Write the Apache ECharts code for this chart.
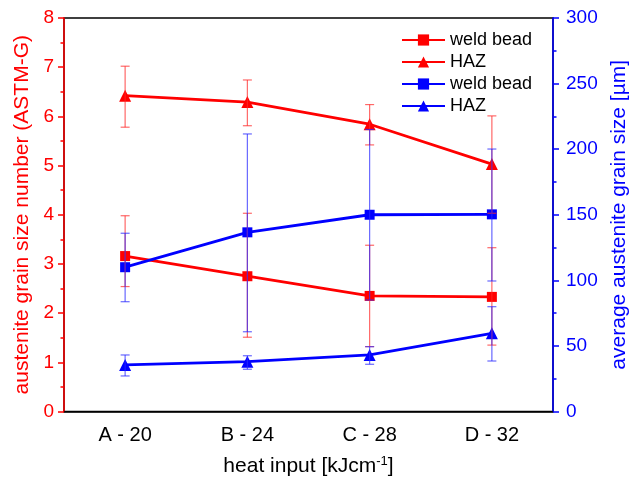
<!DOCTYPE html>
<html>
<head>
<meta charset="utf-8">
<script src="https://cdn.jsdelivr.net/npm/echarts@6/dist/echarts.min.js"></script>
<style>
  html, body { margin: 0; padding: 0; background: #fff; }
  #chart { width: 632px; height: 486px; }
</style>
</head>
<body>
<div id="chart"></div>
<script>
// Heat input categories
const categories = ['A - 20', 'B - 24', 'C - 28', 'D - 32'];

// Grain size number (ASTM-G), left axis
const astmWeldBead = [3.16, 2.75, 2.35, 2.33];
const astmWeldBeadLow = [2.54, 1.51, 1.32, 1.35];
const astmWeldBeadHigh = [3.98, 4.03, 3.38, 3.33];

const astmHaz = [6.42, 6.29, 5.84, 5.03];
const astmHazLow = [5.78, 5.81, 5.42, 4.03];
const astmHazHigh = [7.02, 6.74, 6.24, 6.01];

// Average grain size in µm, right axis
const sizeWeldBead = [110, 136.6, 150, 150.3];
const sizeWeldBeadLow = [83.7, 60.8, 85, 99.5];
const sizeWeldBeadHigh = [135.9, 211.6, 215, 200.1];

const sizeHaz = [35.5, 38, 43.1, 59.6];
const sizeHazLow = [27.1, 32.2, 36, 38.5];
const sizeHazHigh = [43.1, 42.5, 49.4, 79.9];

const RED = '#ff0000';
const BLUE = '#0000ff';
const FONT = "'Liberation Sans', Arial, sans-serif";

function errorData(low, high) {
  return categories.map((c, i) => [i, low[i], high[i]]);
}

function errorSeries(low, high, yAxisIndex, color) {
  return {
    type: 'custom',
    yAxisIndex: yAxisIndex,
    z: 5,
    silent: true,
    data: errorData(low, high),
    encode: { x: 0, y: [1, 2] },
    renderItem: function (params, api) {
      const idx = api.value(0);
      const top = api.coord([idx, api.value(2)]);
      const bot = api.coord([idx, api.value(1)]);
      const w = 4.5;
      const style = { stroke: color, lineWidth: 1.2 };
      return {
        type: 'group',
        children: [
          { type: 'line', shape: { x1: top[0], y1: top[1], x2: bot[0], y2: bot[1] }, style: style },
          { type: 'line', shape: { x1: top[0] - w, y1: top[1], x2: top[0] + w, y2: top[1] }, style: style },
          { type: 'line', shape: { x1: bot[0] - w, y1: bot[1], x2: bot[0] + w, y2: bot[1] }, style: style }
        ]
      };
    }
  };
}

function lineSeries(name, data, yAxisIndex, color, symbol, size) {
  return {
    name: name,
    type: 'line',
    yAxisIndex: yAxisIndex,
    data: data,
    symbol: symbol,
    symbolSize: size,
    z: 3,
    lineStyle: { color: color, width: 2.8 },
    itemStyle: { color: color },
    emphasis: { disabled: true }
  };
}

const chart = echarts.init(document.getElementById('chart'), null, { renderer: 'canvas' });

chart.setOption({
  animation: false,
  backgroundColor: '#ffffff',
  textStyle: { fontFamily: FONT },
  grid: {
    left: 64, right: 79, top: 18, bottom: 74.5,
    outerBoundsMode: 'none',
    containLabel: false,
    show: true, borderColor: '#000', borderWidth: 1.5, backgroundColor: 'transparent'
  },
  legend: {
    orient: 'vertical',
    left: 396, top: 26,
    itemWidth: 43, itemHeight: 14, itemGap: 4,
    textStyle: { fontSize: 18, color: '#000', fontFamily: FONT, padding: [0, 0, 0, 0] },
    data: ['weld bead', 'HAZ', 'weld bead ', 'HAZ ']
  },
  xAxis: {
    type: 'category',
    data: categories,
    boundaryGap: true,
    name: 'heat input [kJcm{sup|-1}]',
    nameLocation: 'middle',
    nameGap: 43,
    nameTextStyle: {
      fontSize: 21, color: '#000', fontFamily: FONT,
      rich: { sup: { fontSize: 13, verticalAlign: 'top', padding: [0, 0, 10, 0], fontFamily: FONT, color: '#000' } }
    },
    axisLine: { lineStyle: { color: '#000', width: 1.5 } },
    axisTick: { alignWithLabel: true, inside: false, length: 6, lineStyle: { color: '#000', width: 1.5 } },
    axisLabel: { fontSize: 20, color: '#000', margin: 14, fontFamily: FONT },
    splitLine: { show: false }
  },
  yAxis: [
    {
      type: 'value',
      position: 'left',
      min: 0, max: 8, interval: 1,
      name: 'austenite grain size number (ASTM-G)',
      nameLocation: 'middle',
      nameRotate: 90,
      nameGap: 31,
      nameTextStyle: { fontSize: 21, color: RED, fontFamily: FONT },
      axisLine: { show: true, lineStyle: { color: RED, width: 1.5 } },
      axisTick: { show: true, inside: false, length: 6, lineStyle: { color: RED, width: 1.5 } },
      minorTick: { show: true, splitNumber: 2, length: 3.5, lineStyle: { color: RED, width: 1.5 } },
      axisLabel: { fontSize: 19, color: RED, margin: 10, fontFamily: FONT },
      splitLine: { show: false }
    },
    {
      type: 'value',
      position: 'right',
      min: 0, max: 300, interval: 50,
      name: 'average austenite grain size [µm]',
      nameLocation: 'middle',
      nameRotate: 90,
      nameGap: 45,
      nameTextStyle: { fontSize: 21, color: BLUE, fontFamily: FONT },
      axisLine: { show: true, lineStyle: { color: BLUE, width: 1.5 } },
      axisTick: { show: true, inside: false, length: 6, lineStyle: { color: BLUE, width: 1.5 } },
      minorTick: { show: true, splitNumber: 2, length: 3.5, lineStyle: { color: BLUE, width: 1.5 } },
      axisLabel: { fontSize: 19, color: BLUE, margin: 13, fontFamily: FONT },
      splitLine: { show: false }
    }
  ],
  series: [
    lineSeries('weld bead', astmWeldBead, 0, RED, 'rect', 10),
    lineSeries('HAZ', astmHaz, 0, RED, 'triangle', 12),
    lineSeries('weld bead ', sizeWeldBead, 1, BLUE, 'rect', 10),
    lineSeries('HAZ ', sizeHaz, 1, BLUE, 'triangle', 12),
    errorSeries(astmWeldBeadLow, astmWeldBeadHigh, 0, 'rgba(255,40,40,0.7)'),
    errorSeries(astmHazLow, astmHazHigh, 0, 'rgba(255,40,40,0.7)'),
    errorSeries(sizeWeldBeadLow, sizeWeldBeadHigh, 1, 'rgba(40,40,255,0.7)'),
    errorSeries(sizeHazLow, sizeHazHigh, 1, 'rgba(40,40,255,0.7)')
  ]
});
</script>
</body>
</html>
